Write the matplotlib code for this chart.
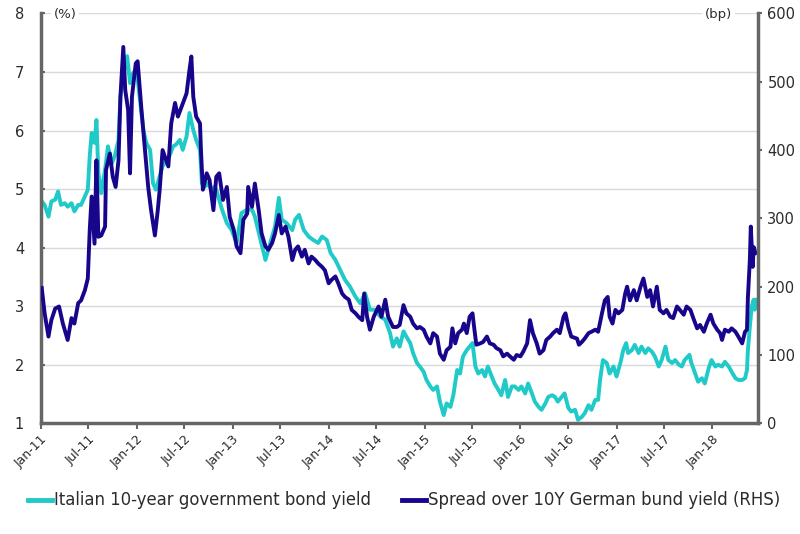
import matplotlib
matplotlib.use("Agg")
import matplotlib.pyplot as plt
import pandas as pd

# values, x as decimal years
yield_years = [
    2011.01, 2011.04, 2011.08, 2011.11, 2011.15, 2011.18, 2011.21, 2011.25, 2011.28, 2011.32,
    2011.35, 2011.39, 2011.42, 2011.46, 2011.49, 2011.51, 2011.53, 2011.56, 2011.58, 2011.60,
    2011.63, 2011.67, 2011.70, 2011.74, 2011.77, 2011.81, 2011.83, 2011.87, 2011.90, 2011.93,
    2011.96, 2012.00, 2012.03, 2012.07, 2012.10, 2012.14, 2012.17, 2012.20, 2012.24, 2012.27,
    2012.31, 2012.34, 2012.38, 2012.41, 2012.45, 2012.48, 2012.52, 2012.55, 2012.59, 2012.62,
    2012.66, 2012.68, 2012.71, 2012.74, 2012.78, 2012.81, 2012.83, 2012.89, 2012.94, 2012.99,
    2013.04, 2013.09, 2013.15, 2013.20, 2013.23, 2013.29, 2013.34, 2013.39, 2013.44, 2013.48,
    2013.51, 2013.56, 2013.62, 2013.65, 2013.69, 2013.74, 2013.79, 2013.84, 2013.89, 2013.93,
    2013.98, 2014.02, 2014.07, 2014.12, 2014.17, 2014.22, 2014.28, 2014.33, 2014.38, 2014.43,
    2014.48, 2014.54, 2014.59, 2014.64, 2014.67, 2014.71, 2014.74, 2014.78, 2014.81, 2014.85,
    2014.88, 2014.92, 2014.95, 2014.99, 2015.02, 2015.06, 2015.09, 2015.13, 2015.16, 2015.20,
    2015.23, 2015.27, 2015.30, 2015.34, 2015.37, 2015.40, 2015.44, 2015.47, 2015.50, 2015.53,
    2015.56, 2015.60, 2015.63, 2015.66, 2015.70, 2015.73, 2015.77, 2015.80, 2015.84, 2015.87,
    2015.91, 2015.94, 2015.98, 2016.01, 2016.05, 2016.08, 2016.12, 2016.15, 2016.19, 2016.22,
    2016.26, 2016.29, 2016.33, 2016.36, 2016.39, 2016.43, 2016.46, 2016.50, 2016.53, 2016.57,
    2016.60, 2016.64, 2016.67, 2016.71, 2016.74, 2016.78, 2016.81, 2016.83, 2016.86, 2016.90,
    2016.93, 2016.97, 2017.00, 2017.04, 2017.07, 2017.10, 2017.12, 2017.16, 2017.19, 2017.23,
    2017.26, 2017.30, 2017.33, 2017.37, 2017.40, 2017.44, 2017.47, 2017.51, 2017.54, 2017.58,
    2017.61, 2017.65, 2017.68, 2017.71, 2017.76, 2017.78, 2017.82, 2017.85, 2017.89, 2017.92,
    2017.96, 2017.99, 2018.03, 2018.06, 2018.10, 2018.13, 2018.17, 2018.20, 2018.24, 2018.27,
    2018.31, 2018.34, 2018.36, 2018.37, 2018.39, 2018.41, 2018.43, 2018.44, 2018.45,
]
yield_pct = [
    4.79, 4.73, 4.53, 4.79, 4.82, 4.96, 4.73, 4.76, 4.70, 4.76,
    4.62, 4.73, 4.73, 4.88, 4.99, 5.56, 5.96, 5.79, 6.18, 5.27,
    4.93, 5.33, 5.73, 5.44, 5.56, 5.84, 6.58, 7.04, 7.27, 6.81,
    6.98, 7.04, 6.58, 6.01, 5.79, 5.67, 5.10, 4.99, 5.22, 5.39,
    5.50, 5.56, 5.73, 5.76, 5.84, 5.67, 5.90, 6.30, 6.01, 5.84,
    5.67, 5.10, 5.04, 5.10, 4.99, 5.04, 4.99, 4.65, 4.42, 4.30,
    4.08, 4.59, 4.65, 4.65, 4.53, 4.13, 3.79, 4.08, 4.36, 4.85,
    4.48, 4.42, 4.30, 4.48, 4.56, 4.30, 4.19, 4.13, 4.08, 4.19,
    4.13, 3.91, 3.79, 3.62, 3.45, 3.34, 3.16, 3.05, 3.22, 2.94,
    2.94, 2.82, 2.77, 2.54, 2.31, 2.45, 2.31, 2.57, 2.48, 2.37,
    2.20, 2.03, 1.97, 1.88, 1.74, 1.63, 1.57, 1.63, 1.37, 1.14,
    1.34, 1.28, 1.48, 1.91, 1.85, 2.14, 2.25, 2.31, 2.37, 1.97,
    1.85, 1.91, 1.80, 1.97, 1.80, 1.68, 1.57, 1.48, 1.74, 1.45,
    1.63, 1.63, 1.57, 1.63, 1.51, 1.68, 1.51, 1.37, 1.28, 1.23,
    1.34, 1.45, 1.48, 1.45, 1.37, 1.45, 1.51, 1.26, 1.20, 1.23,
    1.06, 1.11, 1.17, 1.31, 1.23, 1.40, 1.40, 1.74, 2.08, 2.03,
    1.85, 1.97, 1.80, 2.03, 2.25, 2.37, 2.20, 2.25, 2.34, 2.20,
    2.31, 2.20, 2.28, 2.22, 2.14, 1.97, 2.08, 2.31, 2.08, 2.03,
    2.08, 2.00, 1.97, 2.08, 2.17, 2.03, 1.85, 1.71, 1.77, 1.68,
    1.94, 2.08, 1.97, 2.00, 1.97, 2.05, 1.97, 1.88, 1.77, 1.74,
    1.74, 1.77, 1.91, 2.25, 2.65, 3.00, 3.11, 2.94, 3.11,
]

spread_years = [
    2011.01, 2011.04, 2011.08, 2011.11, 2011.15, 2011.19, 2011.23, 2011.28, 2011.32, 2011.35,
    2011.39, 2011.42, 2011.46, 2011.49, 2011.51, 2011.53, 2011.56, 2011.58, 2011.60, 2011.63,
    2011.67, 2011.68, 2011.72, 2011.75, 2011.78, 2011.81, 2011.83, 2011.86, 2011.88, 2011.91,
    2011.93, 2011.95, 2011.99, 2012.01, 2012.05, 2012.08, 2012.12, 2012.15, 2012.19, 2012.22,
    2012.24, 2012.27, 2012.33, 2012.36, 2012.40, 2012.43, 2012.47, 2012.52, 2012.55, 2012.57,
    2012.59, 2012.62, 2012.66, 2012.67, 2012.69, 2012.73, 2012.76, 2012.80, 2012.83, 2012.86,
    2012.90, 2012.94, 2012.97, 2013.01, 2013.04, 2013.08, 2013.11, 2013.15, 2013.16, 2013.20,
    2013.23, 2013.27, 2013.30, 2013.34, 2013.37, 2013.41, 2013.44, 2013.48, 2013.51, 2013.55,
    2013.58, 2013.62, 2013.65, 2013.68, 2013.72, 2013.75, 2013.79, 2013.82, 2013.86, 2013.89,
    2013.93, 2013.96, 2014.00, 2014.03, 2014.07, 2014.10, 2014.14, 2014.17, 2014.21, 2014.24,
    2014.28, 2014.31, 2014.35, 2014.37, 2014.40, 2014.43, 2014.47, 2014.52, 2014.55, 2014.59,
    2014.62, 2014.67, 2014.71, 2014.74, 2014.78, 2014.81, 2014.85, 2014.88, 2014.92, 2014.95,
    2014.99, 2015.02, 2015.06, 2015.09, 2015.13, 2015.16, 2015.20, 2015.23, 2015.27, 2015.29,
    2015.32, 2015.35, 2015.39, 2015.41, 2015.44, 2015.47, 2015.50, 2015.52, 2015.54, 2015.58,
    2015.61, 2015.65, 2015.68, 2015.72, 2015.75, 2015.79, 2015.82, 2015.86, 2015.89, 2015.93,
    2015.96, 2016.00, 2016.03, 2016.07, 2016.10, 2016.13, 2016.17, 2016.20, 2016.24, 2016.27,
    2016.31, 2016.34, 2016.38, 2016.41, 2016.45, 2016.47, 2016.50, 2016.53, 2016.59, 2016.61,
    2016.64, 2016.67, 2016.71, 2016.74, 2016.78, 2016.81, 2016.85, 2016.88, 2016.91, 2016.93,
    2016.96, 2016.99, 2017.02, 2017.06, 2017.09, 2017.11, 2017.14, 2017.18, 2017.21, 2017.25,
    2017.28, 2017.32, 2017.35, 2017.38, 2017.42, 2017.45, 2017.49, 2017.52, 2017.56, 2017.59,
    2017.63, 2017.66, 2017.70, 2017.73, 2017.77, 2017.80, 2017.84, 2017.87, 2017.91, 2017.94,
    2017.98, 2018.01, 2018.05, 2018.08, 2018.10, 2018.13, 2018.17, 2018.20, 2018.24, 2018.27,
    2018.31, 2018.34, 2018.36, 2018.37, 2018.39, 2018.40, 2018.42, 2018.43, 2018.45,
]
spread_bp = [
    198, 161, 127, 151, 168, 171, 146, 122, 154, 146,
    176, 180, 195, 212, 283, 332, 263, 385, 273, 275,
    288, 371, 395, 361, 346, 385, 478, 551, 488, 459,
    366, 478, 527, 530, 459, 410, 346, 312, 275, 312,
    342, 400, 376, 439, 469, 449, 464, 483, 517, 537,
    478, 449, 439, 400, 342, 366, 356, 312, 361, 366,
    327, 346, 302, 283, 259, 249, 298, 307, 346, 317,
    351, 312, 278, 259, 254, 264, 278, 305, 278, 288,
    273, 239, 254, 259, 244, 254, 234, 244, 239, 234,
    229, 224, 205, 210, 215, 205, 190, 185, 181, 166,
    161, 156, 151, 190, 156, 137, 156, 171, 156, 181,
    156, 141, 141, 144, 173, 161, 156, 146, 139, 141,
    137, 127, 117, 132, 127, 102, 93, 107, 112, 139,
    117, 132, 137, 146, 132, 156, 161, 137, 115, 117,
    119, 127, 117, 115, 110, 107, 98, 102, 98, 93,
    100, 98, 105, 117, 151, 132, 117, 102, 107, 122,
    127, 132, 137, 132, 156, 161, 141, 127, 124, 115,
    119, 124, 132, 134, 137, 134, 161, 180, 185, 156,
    146, 166, 161, 166, 190, 200, 180, 195, 180, 200,
    212, 185, 195, 171, 200, 166, 161, 166, 156, 154,
    171, 166, 159, 171, 166, 154, 139, 144, 134, 146,
    159, 146, 137, 132, 122, 137, 134, 139, 134, 127,
    117, 134, 137, 185, 239, 288, 229, 258, 249,
]

tick_dates = pd.date_range("2011-01-01", "2018-01-01", freq="6MS")
tick_labels = [d.strftime("%b-%y") for d in tick_dates]
label_yield = "Italian 10-year government bond yield"
label_spread = "Spread over 10Y German bund yield (RHS)"

cyan = "#1fcac8"
navy = "#17068c"
grey = "#666666"
txt = "#2b2b2b"


def to_dates(years):
    out = []
    for y in years:
        yr = int(y)
        out.append(pd.Timestamp(yr, 1, 1) + pd.Timedelta(days=(y - yr) * 365.25))
    return out


plt.rcParams["font.family"] = ["DejaVu Sans"]

fig = plt.figure(figsize=(8, 5.34), dpi=100)
ax = fig.add_axes([0.051, 0.2073, 0.896, 0.7675])
ax2 = ax.twinx()

l1, = ax.plot(to_dates(yield_years), yield_pct, color=cyan, lw=2.8, solid_joinstyle="round")
l2, = ax2.plot(to_dates(spread_years), spread_bp, color=navy, lw=2.8, solid_joinstyle="round")

ax.set_ylim(1, 8)
ax2.set_ylim(0, 600)
ax.set_xlim(pd.Timestamp("2011-01-01"), pd.Timestamp("2018-06-22"))
ax.set_yticks(range(1, 9))
ax2.set_yticks(range(0, 601, 100))
ax.set_xticks(tick_dates)
ax.set_xticklabels(tick_labels, rotation=45, ha="right", rotation_mode="anchor")

ax.grid(axis="y", color="#d9d9d9", lw=1)
ax.set_axisbelow(True)
for a in (ax, ax2):
    a.spines["top"].set_visible(False)
    for s in ("left", "right", "bottom"):
        a.spines[s].set_color(grey)
        a.spines[s].set_linewidth(2.5)
ax.spines["right"].set_visible(False)
ax2.spines["left"].set_visible(False)
ax2.spines["bottom"].set_visible(False)

ax.tick_params(axis="y", direction="in", length=3, width=1.5, color=grey, labelsize=10.5, labelcolor=txt, pad=12)
ax.tick_params(axis="x", direction="out", length=4, width=1.5, color=grey, labelsize=9, labelcolor=txt, pad=3)
ax2.tick_params(axis="y", direction="out", length=3, width=1.5, color=grey, labelsize=10.5, labelcolor=txt, pad=4)

ax.text(0.018, 0.997, "(%)", transform=ax.transAxes, ha="left", va="center", fontsize=9.5, color=txt,
        bbox=dict(facecolor="white", edgecolor="none", pad=2))
ax2.text(0.965, 0.997, "(bp)", transform=ax2.transAxes, ha="right", va="center", fontsize=9.5, color=txt,
         bbox=dict(facecolor="white", edgecolor="none", pad=2))

leg = fig.legend([l1, l2], [label_yield, label_spread], loc="center", bbox_to_anchor=(0.505, 0.063), ncol=2,
                 frameon=False, handlelength=1.45, handletextpad=0.1, columnspacing=1.9,
                 prop={"weight": "medium", "size": 11.9})
for t in leg.get_texts():
    t.set_color(txt)
for h in leg.get_lines():
    h.set_linewidth(3.5)

fig.savefig("out.png", dpi=100)
